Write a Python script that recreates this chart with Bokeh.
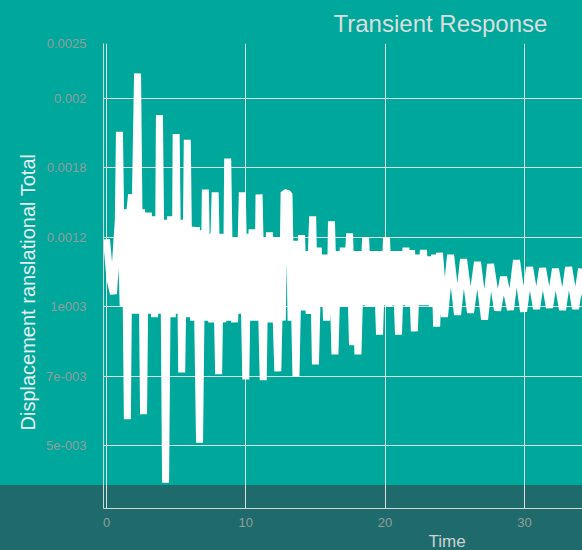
from bokeh.plotting import figure
from bokeh.models import FixedTicker, Range1d, Title
from bokeh.embed import file_html
from bokeh.resources import INLINE

# ---- data ----
time = [0.00, 0.25, 0.50, 0.85, 0.93, 1.02, 1.20, 1.35, 1.50, 1.62,
        1.80, 1.90, 2.05, 2.23, 2.40, 2.52, 2.66, 2.80, 2.90, 3.00,
        3.12, 3.28, 3.45, 3.62, 3.71, 3.80, 3.95, 4.10, 4.24, 4.40,
        4.50, 4.60, 4.72, 4.85, 4.93, 5.00, 5.15, 5.28, 5.40, 5.55,
        5.68, 5.80, 5.95, 6.10, 6.25, 6.45, 6.68, 6.85, 6.98, 7.10,
        7.25, 7.40, 7.55, 7.80, 8.05, 8.20, 8.35, 8.50, 8.60, 8.70,
        8.88, 9.05, 9.20, 9.35, 9.55, 9.75, 10.00, 10.15, 10.30, 10.45,
        10.60, 10.78, 10.86, 10.95, 11.25, 11.40, 11.55, 11.70, 11.85, 12.00,
        12.30, 12.50, 12.62, 12.75, 13.10, 13.25, 13.40, 13.60, 13.80, 13.90,
        14.00, 14.18, 14.36, 14.55, 14.80, 15.00, 15.20, 15.40, 15.60, 15.80,
        15.98, 16.06, 16.15, 16.40, 16.60, 16.80, 17.00, 17.20, 17.45, 17.66,
        17.85, 18.05, 18.25, 18.42, 18.60, 18.80, 19.00, 19.20, 19.40, 19.60,
        19.80, 19.95, 20.10, 20.28, 20.45, 20.60, 20.75, 20.96, 21.15, 21.30,
        21.50, 21.70, 21.90, 22.10, 22.30, 22.50, 22.75, 23.00, 23.20, 23.40,
        23.55, 23.70, 23.90, 24.26, 24.70, 25.20, 25.63, 26.13, 26.63, 27.14,
        27.57, 28.07, 28.50, 29.00, 29.43, 29.94, 30.37, 30.87, 31.30, 31.80,
        32.23, 32.74, 33.17, 33.67, 34.10, 34.50]

# displacement, in micro-units (x 1e-6)
disp_micro = [1094, 980, 937, 1150, 1403, 1150, 900, 1180, 577, 1150,
              1223, 880, 1150, 1571, 880, 1180, 591, 1150, 880, 1171,
              880, 1160, 870, 1150, 880, 1451, 890, 1150, 394, 1140,
              870, 1160, 870, 1140, 880, 1397, 880, 1150, 711, 1140,
              880, 1380, 870, 1130, 860, 1129, 509, 1120, 870, 1237,
              860, 1110, 855, 1229, 706, 1110, 855, 1110, 860, 1326,
              860, 1100, 855, 1100, 880, 1229, 691, 1110, 860, 1123,
              860, 1110, 860, 1223, 689, 1100, 855, 1114, 855, 1100,
              714, 1100, 860, 1229, 1225, 860, 1090, 700, 1090, 890,
              1106, 890, 1060, 880, 1160, 734, 1070, 900, 1050, 860,
              1050, 900, 1146, 763, 1060, 900, 1070, 900, 1111, 790,
              1060, 763, 1060, 905, 1100, 900, 1060, 900, 1060, 820,
              1060, 905, 1100, 900, 1060, 905, 1060, 820, 1060, 905,
              1070, 900, 1063, 829, 1050, 905, 1063, 905, 1045, 900,
              1050, 843, 1055, 871, 1049, 877, 1037, 883, 1029, 863,
              1023, 889, 986, 891, 1034, 886, 1014, 894, 1011, 897,
              1009, 891, 1014, 894, 1009, 890]
disp = [v * 1e-6 for v in disp_micro]

x_ticks = [0, 10, 20, 30]
y_ticks = [0.0005, 0.0007, 0.0009, 0.0011, 0.0013, 0.0015, 0.001657]
y_tick_labels = ["5e-003", "7e-003", "1e003", "0.0012", "0.0018", "0.002", "0.0025"]

title_text = "Transient Response"
x_label = "Time"
y_label = "Displacement ranslational Total"

TEAL = "#00A89C"
DARK = "#1F6B6B"
FONT = "Liberation Sans"

p = figure(width=582, height=550, output_backend="svg", toolbar_location=None,
           x_range=Range1d(-0.215, 34.17), y_range=Range1d(0.00032, 0.001657),
           min_border_left=103, min_border_right=0, min_border_top=41, min_border_bottom=42)

p.border_fill_color = None
p.background_fill_color = None
p.outline_line_color = None
p.styles = {"background": f"linear-gradient(to bottom, {TEAL} 0px, {TEAL} 485px, {DARK} 485px, {DARK} 100%)"}

p.line(time, disp, line_color="white", line_width=7, line_join="bevel")

# axes
for ax in (p.xaxis[0], p.yaxis[0]):
    ax.axis_line_color = "#cfd6d6"
    ax.axis_line_width = 1
    ax.major_tick_line_color = None
    ax.minor_tick_line_color = None
    ax.major_label_text_color = "#939d9d"
    ax.major_label_text_font = FONT
    ax.major_label_text_font_size = "13px"

p.xaxis[0].ticker = FixedTicker(ticks=x_ticks)
p.xaxis[0].major_label_standoff = 3
p.yaxis[0].ticker = FixedTicker(ticks=y_ticks)
p.yaxis[0].major_label_overrides = {k: v for k, v in zip(y_ticks, y_tick_labels)}
p.yaxis[0].major_label_standoff = 11

p.xgrid[0].ticker = FixedTicker(ticks=x_ticks)
p.ygrid[0].ticker = FixedTicker(ticks=y_ticks)
for g in (p.xgrid[0], p.ygrid[0]):
    g.grid_line_color = "#d8dede"
    g.grid_line_width = 1

# texts
p.title = Title(text=title_text, align="left", offset=230, standoff=14, text_font=FONT,
                text_font_size="24px", text_font_style="normal", text_color="#dcdede")
p.add_layout(Title(text=y_label, align="left", offset=78, text_font=FONT,
                   text_font_size="20px", text_font_style="normal", text_color="#e6eeee"), "left")
p.add_layout(Title(text=x_label, align="left", offset=325, standoff=0, text_font=FONT,
                   text_font_size="17px", text_font_style="normal", text_color="#cdd2d2"), "below")

open("out.html", "w").write(file_html(p, INLINE))
